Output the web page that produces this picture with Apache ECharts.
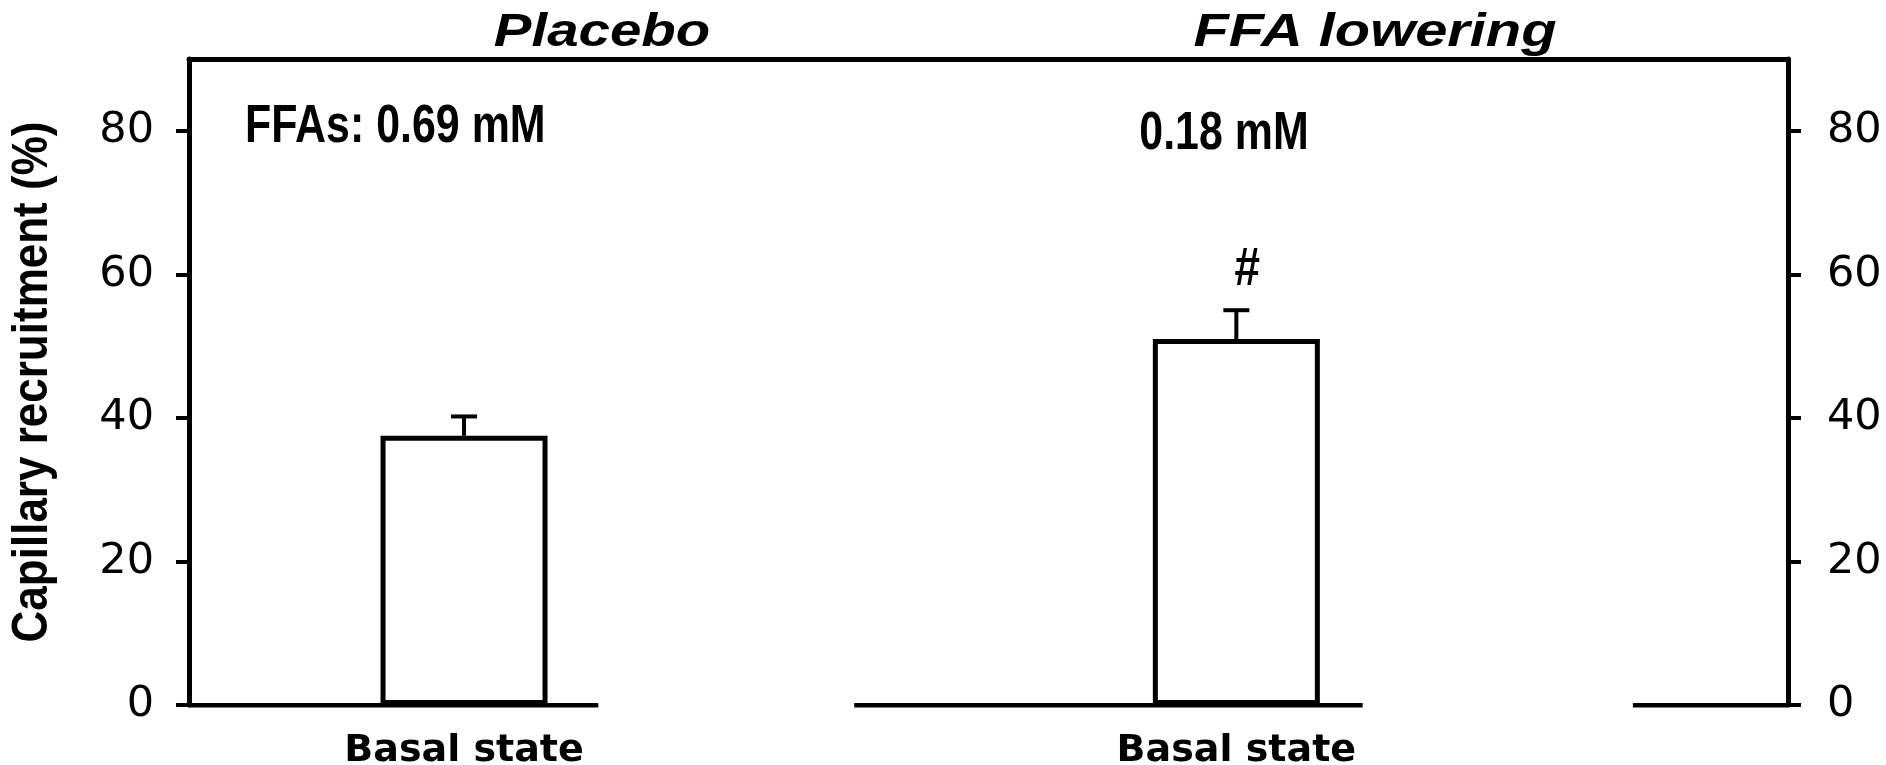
<!DOCTYPE html>
<html>
<head>
<meta charset="utf-8">
<title>Capillary recruitment</title>
<script src="https://cdn.jsdelivr.net/npm/echarts@6/dist/echarts.min.js"></script>
<style>
  html, body { margin: 0; padding: 0; background: #fff; }
  #chart { width: 1886px; height: 765px; }
</style>
</head>
<body>
<div id="chart"></div>
<script>
// Panel headings and the per-panel plasma FFA concentration notes
const groups = ['Placebo', 'FFA lowering'];
const ffaNotes = ['FFAs: 0.69 mM', '0.18 mM'];
const yTitle = 'Capillary recruitment (%)';

// One bar per panel, placed along an abstract 0-100 horizontal scale
const categories = ['Basal state', 'Basal state'];
const barPos = [17.2, 65.5];
const recruitment = [37.5, 51.0];   // mean capillary recruitment (%)
const sem = [2.7, 4.0];             // error (SEM)
const sigMarks = ['', '#'];

// Y ticks and the pieces of the broken baseline (in horizontal-scale units)
const yTicks = [0, 20, 40, 60, 80];
const baselineSpans = [[0, 25.6], [41.6, 73.4], [90.3, 100]];

const INK = '#000';
const NUM_FONT = 'DejaVu Sans';
const TXT_FONT = 'Liberation Sans';

const chart = echarts.init(document.getElementById('chart'), null, { renderer: 'canvas' });

function yAxisDef(position, margin) {
  return {
    type: 'value',
    position: position,
    min: 0,
    max: 90,
    interval: 10,
    splitLine: { show: false },
    axisLine: { show: true, onZero: false, lineStyle: { color: INK, width: 5 } },
    axisTick: { show: true, length: 13, lineStyle: { color: INK, width: 4 }, customValues: yTicks },
    axisLabel: { color: INK, fontFamily: NUM_FONT, fontSize: 43, margin: margin, customValues: yTicks }
  };
}

const option = {
  backgroundColor: '#fff',
  animation: false,
  grid: { left: 189, right: 98, top: 59, bottom: 60, containLabel: false, outerBoundsMode: 'none' },
  xAxis: [
    {
      type: 'value', min: 0, max: 100, position: 'bottom',
      splitLine: { show: false },
      axisLine: { show: false, onZero: false },
      axisTick: { show: false },
      axisLabel: {
        customValues: barPos,
        formatter: (v) => categories[barPos.indexOf(v)] || '',
        color: INK, fontFamily: NUM_FONT, fontWeight: 'bold', fontSize: 38, margin: 27
      }
    },
    {
      // closed frame along the top of the plot
      type: 'value', min: 0, max: 100, position: 'top',
      splitLine: { show: false },
      axisLine: { show: true, onZero: false, lineStyle: { color: INK, width: 5 } },
      axisTick: { show: false },
      axisLabel: { show: false }
    }
  ],
  yAxis: [yAxisDef('left', 35), yAxisDef('right', 39)],
  series: [
    {
      type: 'bar',
      xAxisIndex: 0, yAxisIndex: 0,
      barWidth: 167,
      data: barPos.map((x, i) => [x, recruitment[i]]),
      itemStyle: { color: '#fff', borderColor: INK, borderWidth: 5 },
      silent: true,
      z: 2
    },
    {
      type: 'custom',
      xAxisIndex: 0, yAxisIndex: 0,
      data: barPos.map((x, i) => [x, recruitment[i], sem[i], i]),
      renderItem: (params, api) => {
        const x = api.value(0), m = api.value(1), e = api.value(2), idx = api.value(3);
        const base = api.coord([x, m]);
        const top = api.coord([x, m + e]);
        const half = 13;
        const lineStyle = { stroke: INK, lineWidth: 4 };
        const children = [
          { type: 'line', shape: { x1: base[0], y1: base[1], x2: top[0], y2: top[1] }, style: lineStyle },
          { type: 'line', shape: { x1: top[0] - half, y1: top[1], x2: top[0] + half, y2: top[1] }, style: lineStyle }
        ];
        if (sigMarks[idx]) {
          children.push({
            type: 'text',
            x: top[0] + 11, y: top[1] - 40,
            scaleX: 0.85,
            style: {
              text: sigMarks[idx], fill: INK, align: 'center', verticalAlign: 'middle',
              font: 'bold 54px "' + TXT_FONT + '"'
            }
          });
        }
        return { type: 'group', children: children };
      },
      silent: true,
      z: 3
    },
    {
      type: 'lines',
      coordinateSystem: 'cartesian2d',
      xAxisIndex: 0, yAxisIndex: 0,
      polyline: false,
      data: baselineSpans.map(s => ({ coords: [[s[0], 0], [s[1], 0]] })),
      lineStyle: { color: INK, width: 5, opacity: 1 },
      silent: true,
      z: 4
    }
  ],
  graphic: [
    {
      type: 'text', x: 33, y: 382, rotation: Math.PI / 2, scaleY: 1.15,
      style: { text: yTitle, fill: INK, align: 'center', verticalAlign: 'middle',
               font: 'bold 44px "' + TXT_FONT + '"' }
    },
    {
      type: 'text', x: 602, y: 33, scaleX: 1.2,
      style: { text: groups[0], fill: INK, align: 'center', verticalAlign: 'middle',
               font: 'italic bold 47px "' + TXT_FONT + '"' }
    },
    {
      type: 'text', x: 1375, y: 33, scaleX: 1.23,
      style: { text: groups[1], fill: INK, align: 'center', verticalAlign: 'middle',
               font: 'italic bold 47px "' + TXT_FONT + '"' }
    },
    {
      type: 'text', x: 245, y: 127, scaleX: 0.81,
      style: { text: ffaNotes[0], fill: INK, align: 'left', verticalAlign: 'middle',
               font: 'bold 53px "' + TXT_FONT + '"' }
    },
    {
      type: 'text', x: 1224, y: 134, scaleX: 0.81,
      style: { text: ffaNotes[1], fill: INK, align: 'center', verticalAlign: 'middle',
               font: 'bold 53px "' + TXT_FONT + '"' }
    }
  ]
};

chart.setOption(option);
</script>
</body>
</html>
